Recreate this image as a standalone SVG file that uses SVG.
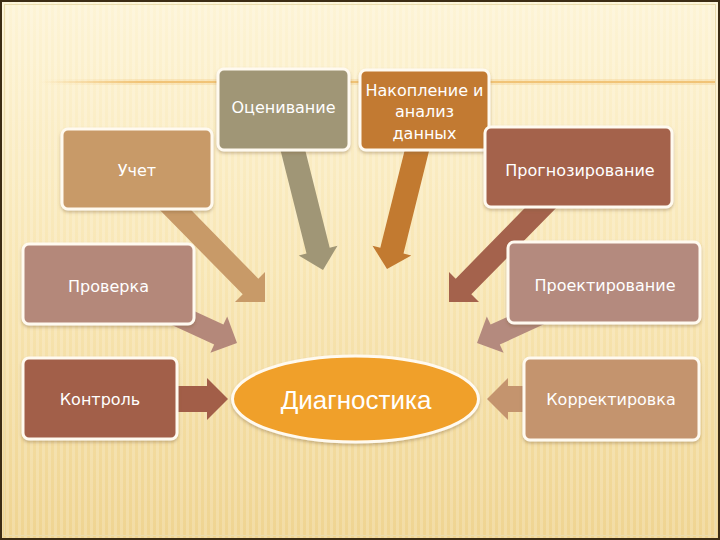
<svg xmlns="http://www.w3.org/2000/svg" width="720" height="540" viewBox="0 0 720 540">
  <defs>
    <linearGradient id="bg" x1="0" y1="0" x2="0" y2="1">
      <stop offset="0" stop-color="#fdf4d6"/>
      <stop offset="0.5" stop-color="#f8e6b4"/>
      <stop offset="1" stop-color="#efd491"/>
    </linearGradient>
    <linearGradient id="rule" x1="0" y1="0" x2="1" y2="0">
      <stop offset="0" stop-color="#f0c070" stop-opacity="0"/>
      <stop offset="0.15" stop-color="#f0c070" stop-opacity="0.9"/>
      <stop offset="1" stop-color="#f0c070" stop-opacity="0.9"/>
    </linearGradient>
    <pattern id="stripes" width="6" height="6" patternUnits="userSpaceOnUse">
      <rect width="3" height="6" fill="#ffffff" opacity="0.18"/>
    </pattern>
    <filter id="sh" x="-10%" y="-10%" width="120%" height="130%">
      <feDropShadow dx="0" dy="2" stdDeviation="1.5" flood-color="#7a5a30" flood-opacity="0.35"/>
    </filter>
  </defs>
  <style>
    .box { stroke: #fffaf0; stroke-width: 3; filter: url(#sh); }
    .lbl { font-family: "DejaVu Sans", "Liberation Sans", sans-serif; font-size: 16px; fill: #ffffff; text-anchor: middle; }
    .big { font-family: "Liberation Sans", "DejaVu Sans", sans-serif; font-size: 26px; fill: #ffffff; text-anchor: middle; }
  </style>

  <!-- background -->
  <rect x="0" y="0" width="720" height="540" fill="url(#bg)"/>
  <rect x="0" y="0" width="720" height="540" fill="url(#stripes)"/>
  <rect x="40" y="79" width="676" height="6" fill="url(#rule)" opacity="0.3"/>
  <rect x="40" y="81" width="676" height="2" fill="url(#rule)"/>
  <rect x="4.5" y="4.5" width="711" height="531" fill="none" stroke="#eadcae" stroke-width="1"/>
  <rect x="1" y="1" width="718" height="538" fill="none" stroke="#3c2c14" stroke-width="2"/>

  <!-- connectors -->
  <g id="connectors">
    <polygon fill="#a09676" points="278.7,142.9 306.5,253.5 298.7,255.5 323,270 337.5,245.7 329.7,247.7 301.9,137.1"/>
    <polygon fill="#c27a30" points="431,142.9 403.5,253.5 411.3,255.5 387,269 372.5,245.7 380.3,247.7 408,137.1"/>
    <polygon fill="#c89a68" points="151,201 242.7,294.3 235,302 265,302 265,272 258.3,278.7 182.3,201"/>
    <polygon fill="#a4624c" points="563,201 471.3,294.3 479,302 449,302 449,272 455.7,278.7 531.7,201"/>
    <polygon fill="#b4887a" points="159.8,295.3 223.4,324.6 227.2,316.4 237,343 210.4,352.8 214.2,344.6 150.6,315.3"/>
    <polygon fill="#b48a7e" points="554.2,295.3 490.6,324.6 486.8,316.4 477,343 503.6,352.8 499.8,344.6 563.4,315.3"/>
    <polygon fill="#a25e48" points="172,386 207,386 207,378 228,399 207,420 207,412 172,412"/>
    <polygon fill="#c4946e" points="530,386 508,386 508,378 487,399 508,420 508,412 530,412"/>
  </g>

  <!-- nodes -->
  <g id="ocenivanie">
    <rect class="box" x="218" y="69" width="131" height="81" rx="6" fill="#a09676"/>
    <text class="lbl" x="283.5" y="113">Оценивание</text>
  </g>
  <g id="nakoplenie">
    <rect class="box" x="360" y="70" width="129" height="80" rx="6" fill="#c27a30"/>
    <text class="lbl" x="424.5" y="96">Накопление и</text>
    <text class="lbl" x="424.5" y="117">анализ</text>
    <text class="lbl" x="424.5" y="139">данных</text>
  </g>
  <g id="uchet">
    <rect class="box" x="62" y="129" width="150" height="80" rx="6" fill="#c89a68"/>
    <text class="lbl" x="137" y="176">Учет</text>
  </g>
  <g id="prognozirovanie">
    <rect class="box" x="485" y="127" width="187" height="80" rx="6" fill="#a4624c"/>
    <text class="lbl" x="580" y="176">Прогнозирование</text>
  </g>
  <g id="proverka">
    <rect class="box" x="23" y="244" width="171" height="80" rx="6" fill="#b4887a"/>
    <text class="lbl" x="108.5" y="292">Проверка</text>
  </g>
  <g id="proektirovanie">
    <rect class="box" x="508" y="242" width="192" height="81" rx="6" fill="#b48a7e"/>
    <text class="lbl" x="605" y="291">Проектирование</text>
  </g>
  <g id="kontrol">
    <rect class="box" x="23" y="358" width="154" height="81" rx="6" fill="#a25e48"/>
    <text class="lbl" x="100" y="405">Контроль</text>
  </g>
  <g id="korrektirovka">
    <rect class="box" x="524" y="358" width="175" height="82" rx="6" fill="#c4946e"/>
    <text class="lbl" x="611" y="405">Корректировка</text>
  </g>
  <g id="diagnostika">
    <ellipse class="box" cx="355.5" cy="399" rx="123" ry="43" fill="#f0a02a"/>
    <text class="big" x="356" y="409">Диагностика</text>
  </g>
</svg>
